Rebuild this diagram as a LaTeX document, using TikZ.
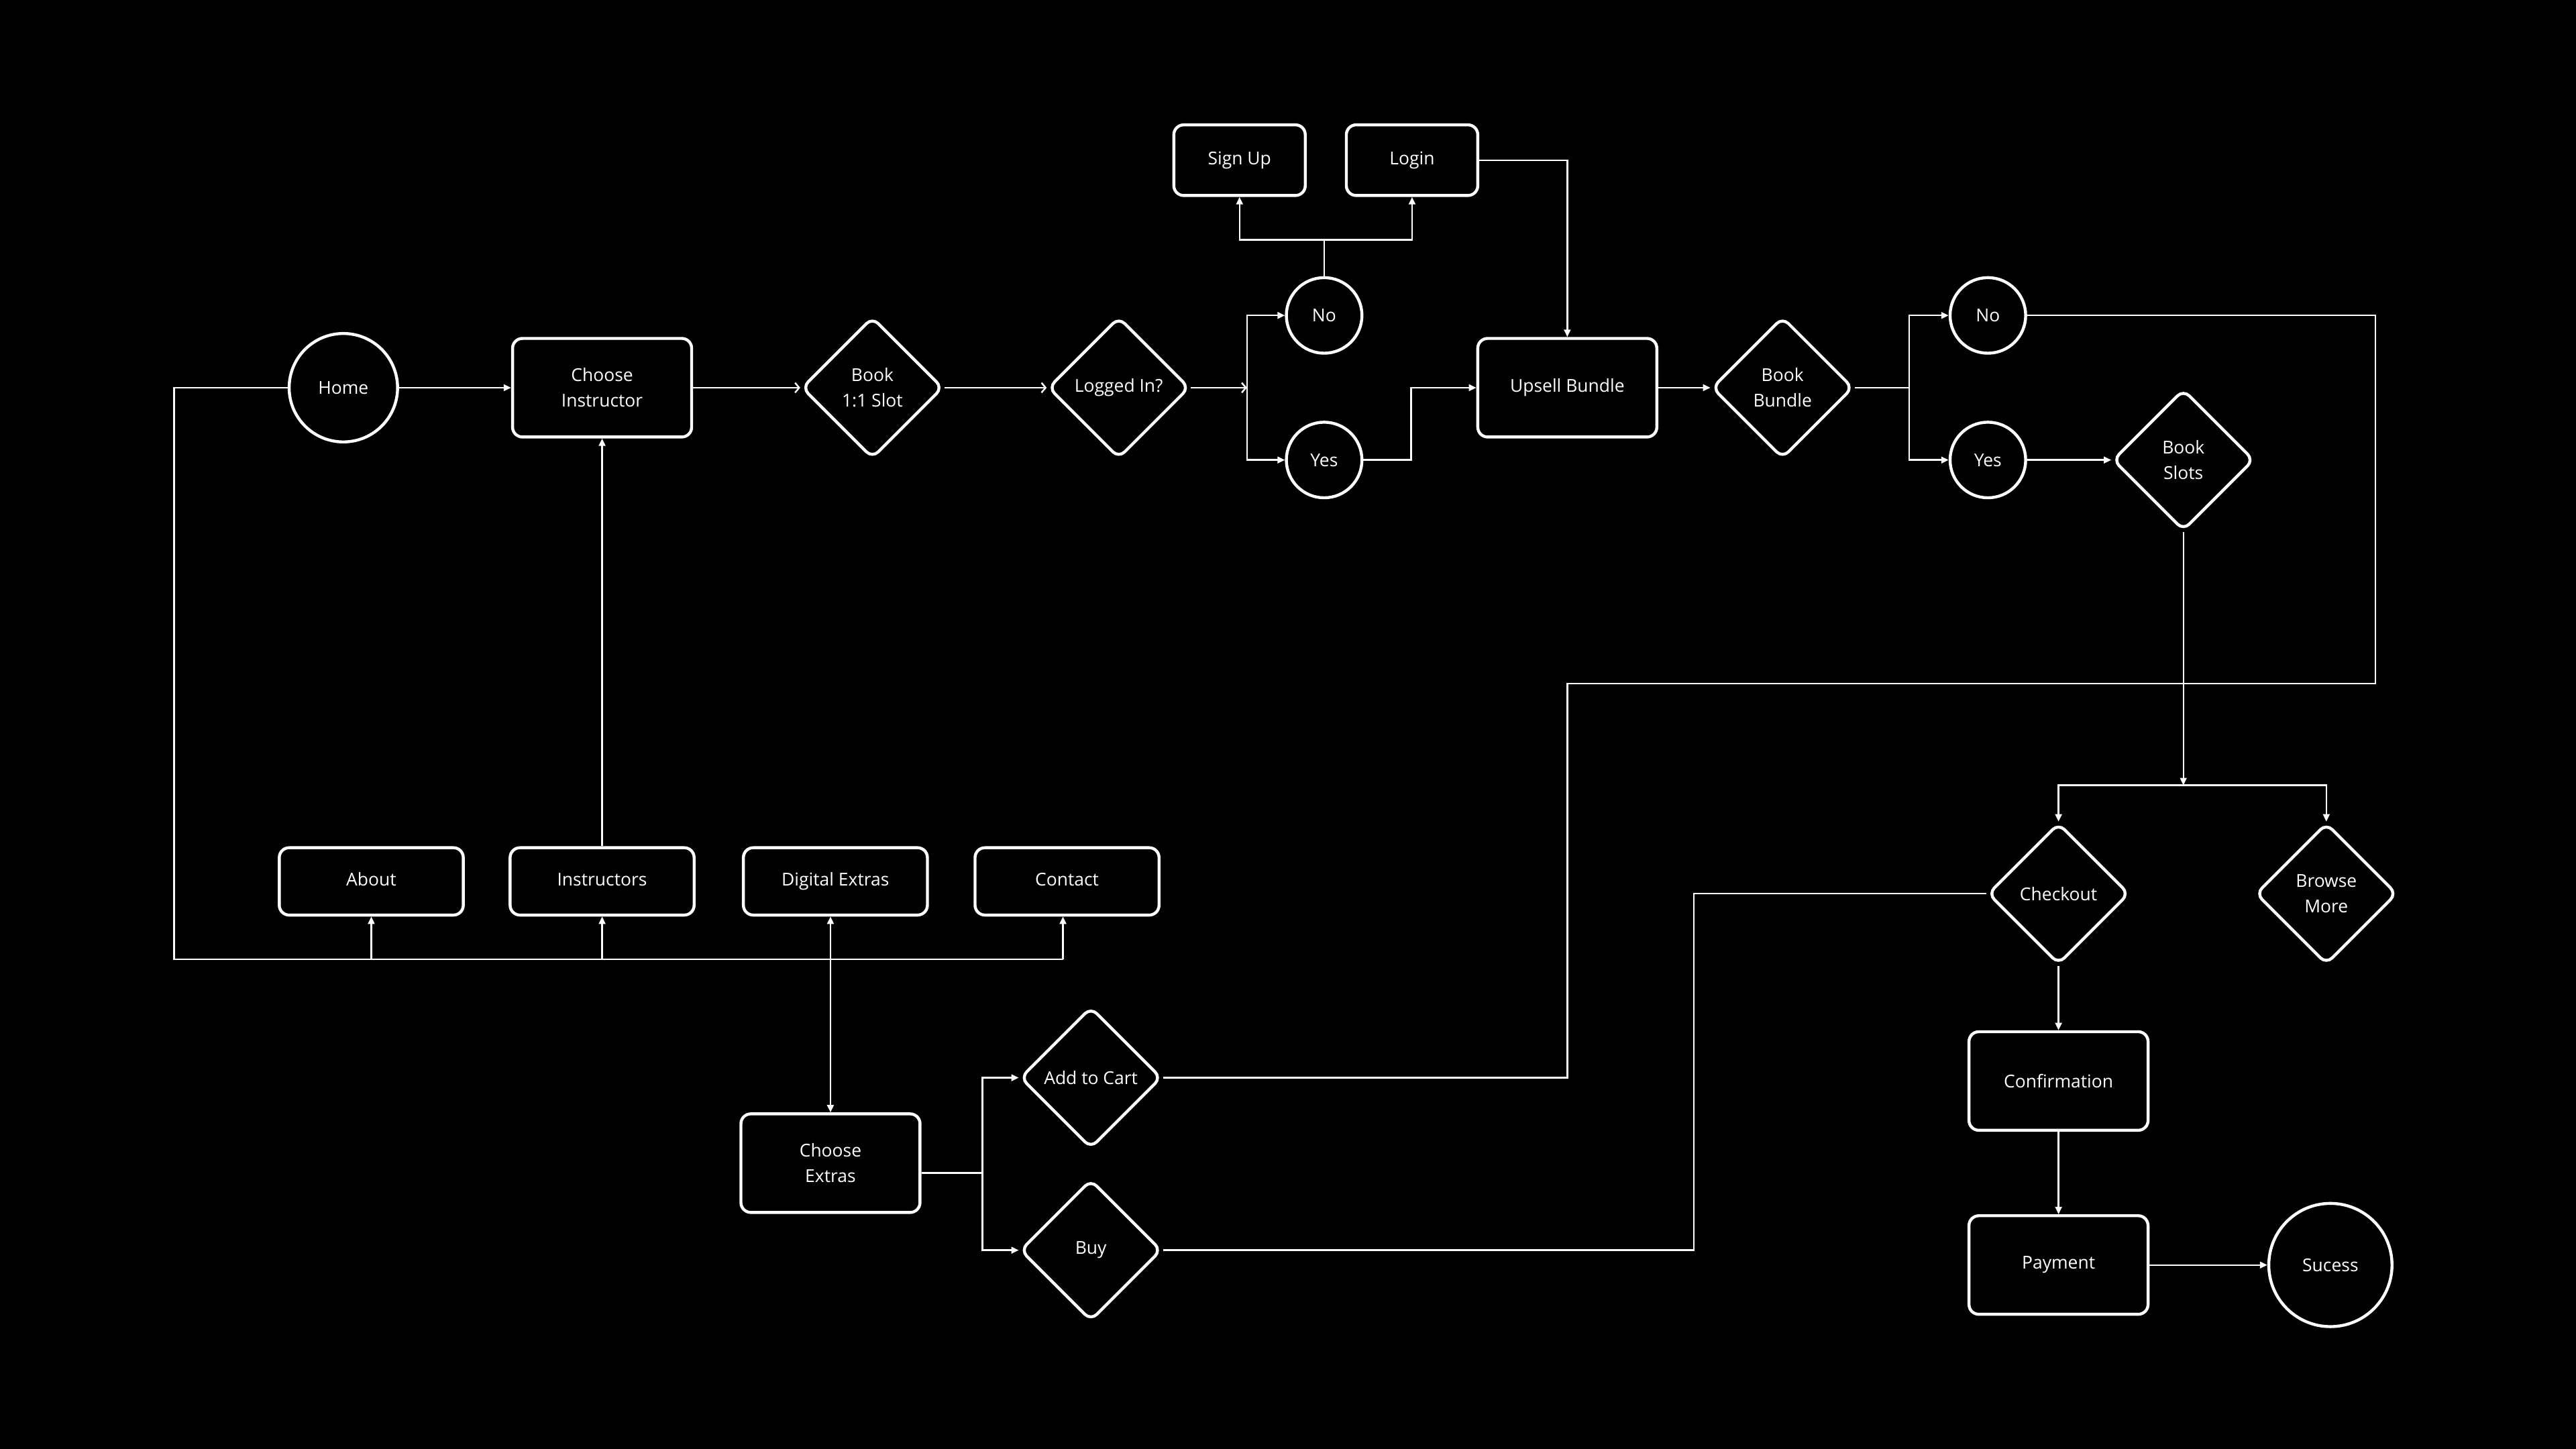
\documentclass[tikz,border=0pt]{standalone}
\usepackage{fontspec}
\setmainfont{Open Sans}
\usetikzlibrary{shapes.geometric,arrows.meta}
\begin{document}
\begin{tikzpicture}[x=1pt,y=-1pt,
 every node/.style={text=white,font=\fontsize{10.8}{15.5}\selectfont,align=center},
 box/.style={draw=white,line width=1.8pt,rounded corners=6pt,fill=black,minimum width=109pt,minimum height=60pt,inner sep=0pt},
 smallbox/.style={box,minimum width=80pt,minimum height=43pt},
 navbox/.style={box,minimum width=112pt,minimum height=41pt,text height=7.8pt,text depth=2.4pt},
 dec/.style={draw=white,line width=1.8pt,diamond,rounded corners=5pt,fill=black,minimum width=86pt,minimum height=86pt,inner sep=0pt,aspect=1},
 term/.style={draw=white,line width=1.8pt,circle,fill=black,minimum size=66pt,inner sep=0pt},
 yn/.style={term,minimum size=46pt},
 conn/.style={draw=white,line width=1pt},
 arr/.style={conn,-{Triangle[length=4.5pt,width=4pt]}},
 barb/.style={conn,-{Straight Barb[length=2.5pt,width=6pt]}},
]
\fill[black] (0,0) rectangle (1568,882);
\useasboundingbox (0,0) rectangle (1568,882);

\node[term] (home) at (209,236) {Home};
\node[box] (chi) at (366.5,236) {Choose\\Instructor};
\node[dec] (b11) at (531,236) {Book\\1:1 Slot};
\node[dec] (log) at (681,236) {Logged In?};
\node[yn] (no1) at (806,192) {No};
\node[yn] (yes1) at (806,280) {Yes};
\node[smallbox] (sign) at (754.5,97.5) {Sign Up};
\node[smallbox] (login) at (859.5,97.5) {Login};
\node[box] (ups) at (954,236) {Upsell Bundle};
\node[dec] (bb) at (1085,236) {Book\\Bundle};
\node[yn] (no2) at (1210,192) {No};
\node[yn] (yes2) at (1210,280) {Yes};
\node[dec] (bs) at (1329,280) {Book\\Slots};
\node[dec] (co) at (1253,544) {Checkout};
\node[dec] (bm) at (1416,544) {Browse\\More};
\node[box] (conf) at (1253,658) {Confirmation};
\node[box] (pay) at (1253,770) {Payment};
\node[term,minimum size=75pt] (suc) at (1418.5,770) {Sucess};
\node[navbox] (about) at (226,536.5) {About};
\node[navbox] (instr) at (366.5,536.5) {Instructors};
\node[navbox] (dig) at (508.5,536.5) {Digital Extras};
\node[navbox] (cont) at (649.5,536.5) {Contact};
\node[box] (cex) at (505.5,708) {Choose\\Extras};
\node[dec] (cart) at (664,656) {Add to Cart};
\node[dec] (buy) at (664,761) {Buy};

\coordinate (j1) at (759,236);
\coordinate (j2) at (806,146);
\coordinate (j3) at (859,280);
\coordinate (j4) at (1162,236);
\coordinate (j5) at (1329,478);
\coordinate (j6) at (598,714);
\coordinate (k1) at (1446,416);
\coordinate (k2) at (954,416);
\coordinate (k3) at (1031,544);
\coordinate (b1) at (106,584);
\coordinate (b2) at (647,584);

\draw[arr] (home) -- (chi);
\draw[barb] (chi) -- (b11);
\draw[barb] (b11) -- (log);
\draw[barb] (log.east) -- (j1);
\draw[arr] (j1) |- (no1);
\draw[arr] (j1) |- (yes1);
\draw[conn] (no1) -- (j2);
\draw[arr] (j2) -| (sign);
\draw[arr] (j2) -| (login);
\draw[arr] (login) -| (ups);
\draw[arr] (yes1) -- (j3) |- (ups);
\draw[arr] (ups) -- (bb);
\draw[conn] (bb) -- (j4);
\draw[arr] (j4) |- (no2);
\draw[arr] (j4) |- (yes2);
\draw[arr] (yes2) -- (bs);
\draw[conn] (no2.east) -| (k1) -- (k2) |- (cart.east);
\draw[arr] (bs) -- (j5);
\draw[arr] (j5) -| (co);
\draw[arr] (j5) -| (bm);
\draw[conn] (co) -- (k3) |- (buy);
\draw[arr] (co) -- (conf);
\draw[arr] (conf) -- (pay);
\draw[arr] (pay) -- (suc);
\draw[conn] (home) -| (b1) -- (b2);
\draw[arr] (about |- b1) -- (about);
\draw[arr] (instr |- b1) -- (instr);
\draw[arr] (b2) -- (b2 |- cont.south);
\draw[arr] (instr) -- (chi);
\draw[conn,{Triangle[length=4.5pt,width=4pt]}-{Triangle[length=4.5pt,width=4pt]}] (cex.north |- dig.south) -- (cex);
\draw[conn] (cex.east |- j6) -- (j6);
\draw[arr] (j6) |- (cart);
\draw[arr] (j6) |- (buy);
\end{tikzpicture}
\end{document}
